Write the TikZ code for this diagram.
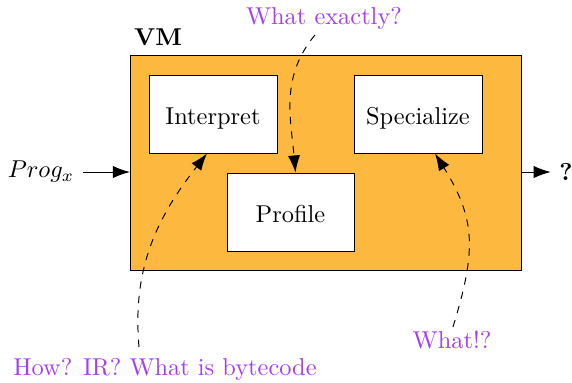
\documentclass[tikz,border=0pt]{standalone}
\usetikzlibrary{arrows.meta}
\definecolor{vmorange}{HTML}{FDB93F}
\definecolor{notepurple}{HTML}{A63CF5}
\begin{document}
\begin{tikzpicture}[x=0.41pt,y=-0.41pt,
  stage/.style={draw,fill=white,inner sep=0pt,text height=8.6pt,text depth=0pt},
  note/.style={text=notepurple},
  flow/.style={-{Latex[length=7pt,width=5pt]}},
  ask/.style={dashed,-{Latex[length=7pt,width=5pt]}}]
\useasboundingbox (0,0) rectangle (572,382);
% the virtual machine
\draw[fill=vmorange] (130,55) rectangle (521,270);
\node[font=\bfseries] (vm) at (158,37) {VM};
% its stages
\node[stage,minimum width=128*0.41pt,minimum height=78*0.41pt] (interp) at (213,114) {Interpret};
\node[stage,minimum width=128*0.41pt,minimum height=78*0.41pt] (spec) at (418,114) {Specialize};
\node[stage,minimum width=127*0.41pt,minimum height=78*0.41pt] (prof) at (290.5,212) {Profile};
% input and output
\node (prog) at (41,172) {$Prog_x$};
\coordinate (in) at (130,172);
\draw[flow] (prog.east) -- (in);
\coordinate (out) at (521,172);
\node[font=\bfseries] (res) at (566,172) {?};
\draw[flow] (out) -- (res.west);
% questions
\node[note] (q1) at (324,18) {What exactly?};
\node[note] (q2) at (165,369) {How? IR? What is bytecode};
\node[note] (q3) at (452,340) {What!?};
\coordinate (q1s) at (315,35);
\coordinate (q2s) at (139,347);
\coordinate (q3s) at (453,327);
\draw[ask] (q1s) to[out=-130,in=95] ([xshift=5*0.41pt]prof.north);
\draw[ask] (q2s) to[out=95,in=-128] ([xshift=-6*0.41pt]interp.south);
\draw[ask] (q3s) to[out=73,in=-58,looseness=1.15] ([xshift=17*0.41pt]spec.south);
\end{tikzpicture}
\end{document}
